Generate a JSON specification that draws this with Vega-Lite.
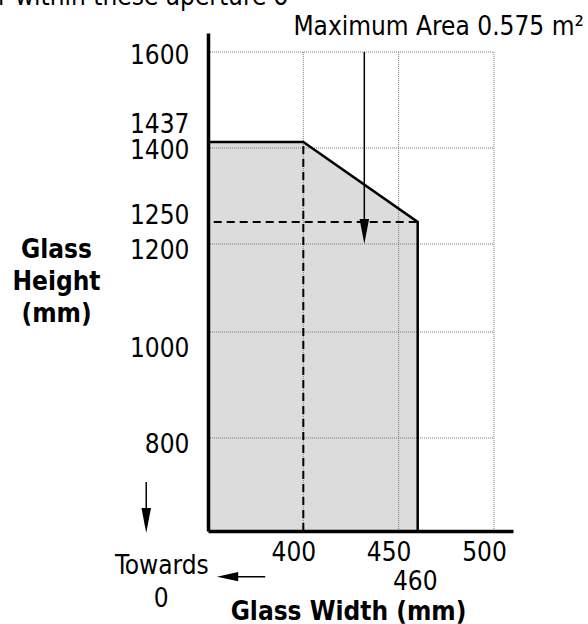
{
  "$schema": "https://vega.github.io/schema/vega-lite/v6.json",
  "width": 305,
  "height": 498,
  "autosize": "none",
  "padding": {"left": 208, "top": 33, "right": 75, "bottom": 93},
  "background": "white",
  "config": {"view": {"stroke": null}, "font": "DejaVu Sans Condensed"},
  "datasets": {
    "area": [{"w": 350, "h": 1437}, {"w": 400, "h": 1437}, {"w": 460, "h": 1250}],
    "poly": [{"w": 350, "h": 1437, "o": 1}, {"w": 400, "h": 1437, "o": 2}, {"w": 460, "h": 1250, "o": 3}, {"w": 460, "h": 620, "o": 4}],
    "hgrid": [{"h": 800}, {"h": 1000}, {"h": 1200}, {"h": 1400}, {"h": 1600}],
    "vgrid": [{"w": 400}, {"w": 450}, {"w": 500}],
    "dashes": [{"w": 400, "w2": 400, "h": 620, "h2": 1437}, {"w": 353, "w2": 460, "h": 1250, "h2": 1250}],
    "arrows": [{"w": 432, "w2": 432, "h": 1600, "h2": 1215}, {"w": 317.6, "w2": 317.6, "h": 715, "h2": 650}, {"w": 380, "w2": 362, "h": 531.6, "h2": 531.6}],
    "headsDown": [{"w": 432, "h": 1200}, {"w": 317.6, "h": 616}],
    "headsLeft": [{"w": 354.7, "h": 531.6}],
    "notesLeft": [{"label": "Maximum Area 0.575 m²", "w": 394.8, "h": 1635.8}, {"label": "r within these aperture o", "w": 239.8, "h": 1699}],
    "notesCenter": [{"label": "Towards", "w": 325.8, "h": 537}, {"label": "0", "w": 325.5, "h": 473.5}]
  },
  "layer": [
    {
      "data": {"name": "area"},
      "mark": {"type": "area", "fill": "#dcdcdc", "stroke": null},
      "encoding": {
        "x": {
          "field": "w", "type": "quantitative",
          "scale": {"domain": [350, 510], "nice": false, "zero": false},
          "axis": {
            "values": [400, 450, 460, 500], "format": "d",
            "grid": false, "ticks": false, "tickSize": 0,
            "domainColor": "black", "domainWidth": 3.5, "zindex": 1,
            "labelFont": "DejaVu Sans Condensed", "labelFontSize": 26, "labelColor": "black",
            "labelPadding": {"condition": {"test": "datum.value == 460", "value": 37}, "value": 8},
            "labelOffset": {"condition": {"test": "datum.value == 460", "value": -3}, "value": -10},
            "labelFlush": false, "labelOverlap": false,
            "title": "Glass Width (mm)",
            "titleFont": "DejaVu Sans Condensed", "titleFontSize": 26, "titleFontWeight": "bold", "titleColor": "black",
            "titleAnchor": null, "titleAlign": "center", "titleBaseline": "middle",
            "titleX": 140, "titleY": 80
          }
        },
        "y": {
          "field": "h", "type": "quantitative",
          "scale": {
            "domain": [620, 800, 1000, 1200, 1250, 1400, 1437, 1600, 1640],
            "range": [498, 405, 299, 211, 189, 115, 109, 19, 0],
            "nice": false, "zero": false
          },
          "axis": {
            "values": [800, 1000, 1200, 1250, 1400, 1437, 1600], "format": "d",
            "grid": false, "ticks": false, "tickSize": 0,
            "domainColor": "black", "domainWidth": 3.5, "zindex": 1,
            "labelFont": "DejaVu Sans Condensed", "labelFontSize": 26, "labelColor": "black",
            "labelPadding": 19, "labelBaseline": "middle",
            "labelOverlap": false, "labelFlush": false,
            "labelOffset": {
              "condition": [
                {"test": "datum.value == 1600", "value": 3},
                {"test": "datum.value == 1437", "value": -18},
                {"test": "datum.value == 1400", "value": 2},
                {"test": "datum.value == 1250", "value": -7},
                {"test": "datum.value == 1200", "value": 6},
                {"test": "datum.value == 1000", "value": 16}
              ],
              "value": 6
            },
            "title": ["Glass", "Height", "(mm)"],
            "titleFont": "DejaVu Sans Condensed", "titleFontSize": 26, "titleFontWeight": "bold", "titleColor": "black",
            "titleAngle": 0, "titleAnchor": null, "titleAlign": "center", "titleBaseline": "middle",
            "titleLineHeight": 32,
            "titleX": -152, "titleY": 216
          }
        },
        "y2": {"datum": 620}
      }
    },
    {
      "data": {"name": "hgrid"},
      "mark": {"type": "rule", "stroke": "#7a7a7a", "strokeWidth": 1, "strokeDash": [1, 1]},
      "encoding": {
        "x": {"datum": 350, "type": "quantitative"},
        "x2": {"datum": 500},
        "y": {"field": "h", "type": "quantitative"}
      }
    },
    {
      "data": {"name": "vgrid"},
      "mark": {"type": "rule", "stroke": "#7a7a7a", "strokeWidth": 1, "strokeDash": [1, 1]},
      "encoding": {
        "x": {"field": "w", "type": "quantitative"},
        "y": {"datum": 620, "type": "quantitative"},
        "y2": {"datum": 1600}
      }
    },
    {
      "data": {"name": "poly"},
      "mark": {"type": "line", "stroke": "black", "strokeWidth": 2.5, "strokeJoin": "miter"},
      "encoding": {
        "x": {"field": "w", "type": "quantitative"},
        "y": {"field": "h", "type": "quantitative"},
        "order": {"field": "o", "type": "quantitative"}
      }
    },
    {
      "data": {"name": "dashes"},
      "mark": {"type": "rule", "stroke": "black", "strokeWidth": 2, "strokeDash": [8, 5]},
      "encoding": {
        "x": {"field": "w", "type": "quantitative"},
        "x2": {"field": "w2"},
        "y": {"field": "h", "type": "quantitative"},
        "y2": {"field": "h2"}
      }
    },
    {
      "data": {"name": "arrows"},
      "mark": {"type": "rule", "stroke": "black", "strokeWidth": 1.5},
      "encoding": {
        "x": {"field": "w", "type": "quantitative"},
        "x2": {"field": "w2"},
        "y": {"field": "h", "type": "quantitative"},
        "y2": {"field": "h2"}
      }
    },
    {
      "data": {"name": "headsDown"},
      "mark": {"type": "point", "shape": "M0,0L-0.19,-1L0.19,-1Z", "filled": true, "fill": "black", "stroke": null, "size": 2500, "opacity": 1},
      "encoding": {
        "x": {"field": "w", "type": "quantitative"},
        "y": {"field": "h", "type": "quantitative"}
      }
    },
    {
      "data": {"name": "headsLeft"},
      "mark": {"type": "point", "shape": "M0,0L-0.22,-1L0.22,-1Z", "filled": true, "fill": "black", "stroke": null, "size": 1800, "angle": 90, "opacity": 1},
      "encoding": {
        "x": {"field": "w", "type": "quantitative"},
        "y": {"field": "h", "type": "quantitative"}
      }
    },
    {
      "data": {"name": "notesLeft"},
      "mark": {"type": "text", "align": "left", "baseline": "alphabetic", "font": "DejaVu Sans Condensed", "fontSize": 26, "fill": "black"},
      "encoding": {
        "x": {"field": "w", "type": "quantitative"},
        "y": {"field": "h", "type": "quantitative"},
        "text": {"field": "label"}
      }
    },
    {
      "data": {"name": "notesCenter"},
      "mark": {"type": "text", "align": "center", "baseline": "alphabetic", "font": "DejaVu Sans Condensed", "fontSize": 26, "fill": "black"},
      "encoding": {
        "x": {"field": "w", "type": "quantitative"},
        "y": {"field": "h", "type": "quantitative"},
        "text": {"field": "label"}
      }
    }
  ]
}
